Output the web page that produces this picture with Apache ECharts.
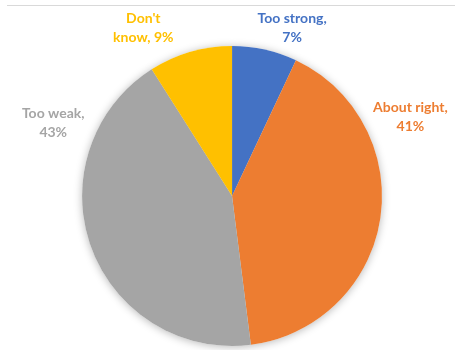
<!DOCTYPE html>
<html>
<head>
<meta charset="utf-8">
<script src="https://cdn.jsdelivr.net/npm/echarts@6/dist/echarts.min.js"></script>
<style>
  html, body { margin: 0; padding: 0; background: #fff; }
  #chart { width: 455px; height: 350px; }
</style>
</head>
<body>
<div id="chart"></div>
<script>
// Survey answers, clockwise from 12 o'clock
const categories = ['Too strong', 'About right', 'Too weak', "Don't know"];
const shares = [7, 41, 43, 9];
const colors = ['#4472C4', '#ED7D31', '#A5A5A5', '#FFC000'];

// Where each two-line label sits, as fractions of the chart box
const labelSpots = [[0.642, 0.08], [0.902, 0.335], [0.117, 0.352], [0.315, 0.08]];

const chart = echarts.init(document.getElementById('chart'), null, { renderer: 'canvas' });

const pieData = categories.map((name, i) => ({
  name: name,
  value: shares[i],
  itemStyle: { color: colors[i] },
  label: { color: colors[i] }
}));

const center = ['51%', '56%'];
const radius = '85.7%';

chart.setOption({
  animation: false,
  backgroundColor: '#ffffff',
  graphic: [{
    type: 'line',
    shape: { x1: 7, y1: 5.5, x2: 455, y2: 5.5 },
    style: { stroke: '#d9d9d9', lineWidth: 1 },
    silent: true
  }],
  series: [
    {
      // soft drop shadow under the whole pie
      type: 'pie',
      silent: true,
      center: center,
      radius: radius,
      startAngle: 90,
      data: shares.map(v => ({ value: v })),
      label: { show: false },
      labelLine: { show: false },
      itemStyle: {
        color: '#ffffff',
        shadowBlur: 8,
        shadowColor: 'rgba(0,0,0,0.28)',
        shadowOffsetY: 1
      },
      z: 1
    },
    {
      type: 'pie',
      center: center,
      radius: radius,
      startAngle: 90,
      clockwise: true,
      data: pieData,
      itemStyle: { borderWidth: 0 },
      label: {
        show: true,
        position: 'outside',
        formatter: p => {
          const name = p.name;
          if (name === "Don't know") return "Don't\nknow, " + p.value + '%';
          return name + ',\n' + p.value + '%';
        },
        fontFamily: 'Lato, "Open Sans", sans-serif',
        fontWeight: 'bold',
        fontSize: 14,
        lineHeight: 19,
        align: 'center',
        overflow: 'none',
        width: 120
      },
      labelLine: { show: false },
      labelLayout: function (params) {
        const spot = labelSpots[params.dataIndex];
        const w = chart.getWidth(), h = chart.getHeight();
        return {
          x: spot[0] * w,
          y: spot[1] * h,
          align: 'center',
          verticalAlign: 'middle'
        };
      },
      z: 2
    }
  ]
});
</script>
</body>
</html>
